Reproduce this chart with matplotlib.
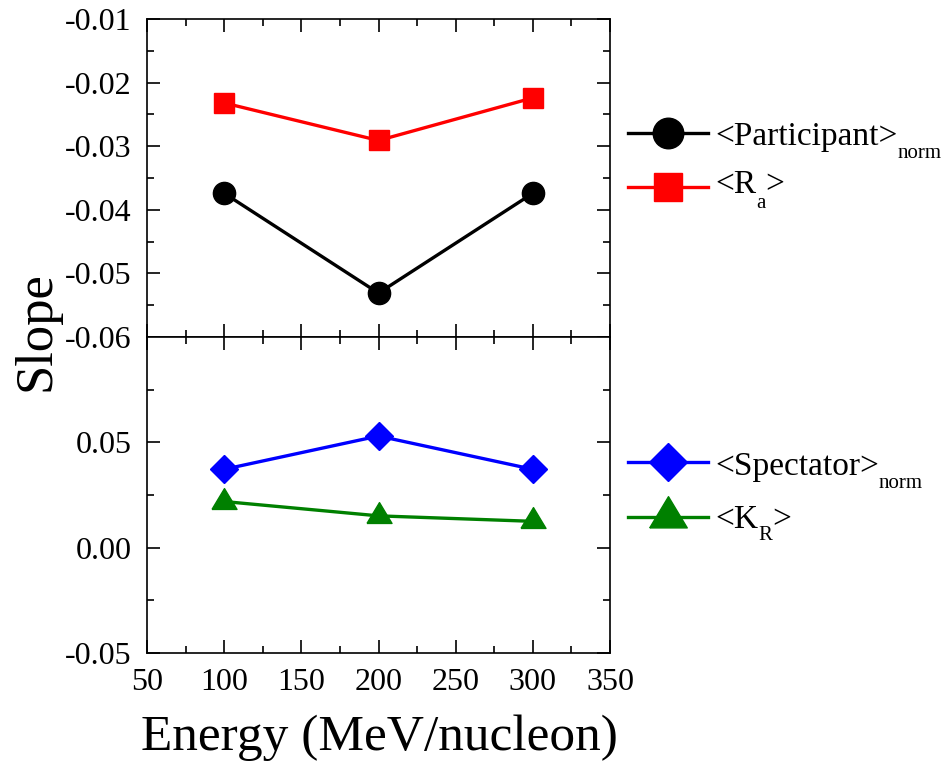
import matplotlib
matplotlib.use('Agg')
import matplotlib.pyplot as plt
from matplotlib.lines import Line2D
from matplotlib.ticker import MultipleLocator, FormatStrFormatter, FixedLocator

plt.rcParams['font.family'] = 'Liberation Serif'
plt.rcParams['axes.unicode_minus'] = False

# data
energy = [100, 200, 300]
participant = [-0.0374, -0.0531, -0.0374]
r_a = [-0.0232, -0.0291, -0.0224]
spectator = [0.0372, 0.0530, 0.0372]
k_r = [0.0219, 0.0151, 0.0125]

W, H = 946, 768
fig = plt.figure(figsize=(W / 100, H / 100), dpi=100)
ax_top = fig.add_axes([147 / W, 1 - 337 / H, 463 / W, 318 / H])
ax_bot = fig.add_axes([147 / W, 1 - 653 / H, 463 / W, 316 / H])

# triangle centred on its centroid, a bit wider than tall
tri = [(-1, -0.555), (1, -0.555), (0, 1.11), (-1, -0.555)]

series = [
    (ax_top, participant, 'black', 'o', 16, 22, ('<Participant>', 'norm', ''), 133, 145, 13),
    (ax_top, r_a, 'red', 's', 14.5, 20, ('<R', 'a', '>'), 187, 193, 15),
    (ax_bot, spectator, 'blue', 'D', 14, 19.5, ('<Spectator>', 'norm', ''), 462, 475, 13),
    (ax_bot, k_r, 'green', tri, 20, 30, ('<K', 'R', '>'), 517, 528, 12),
]

lw = 2.4
for ax, vals, color, marker, ms, lms, label, ly, base, drop in series:
    ax.plot(energy, vals, color=color, lw=lw, marker=marker, ms=ms)

    # legend entry drawn by hand (sample line + text with subscript)
    yl = (H - ly) / H
    fig.add_artist(Line2D([628 / W, 668 / W, 708 / W], [yl, yl, yl], color=color,
                          lw=lw, marker=marker, ms=lms, markevery=[1],
                          transform=fig.transFigure))
    main, sub, tail = label
    t1 = fig.text(715 / W, (H - base) / H, main, fontsize=24, va='baseline')
    t2 = fig.add_artist(plt.Annotation(sub, xy=(1, H - base - drop),
                                       xycoords=(t1, 'figure pixels'),
                                       fontsize=15, va='baseline', ha='left'))
    if tail:
        fig.add_artist(plt.Annotation(tail, xy=(1, H - base),
                                      xycoords=(t2, 'figure pixels'),
                                      fontsize=24, va='baseline', ha='left'))

for ax in (ax_top, ax_bot):
    ax.set_xlim(50, 350)
    ax.xaxis.set_major_locator(MultipleLocator(50))
    ax.xaxis.set_minor_locator(MultipleLocator(25))
    ax.tick_params(which='both', direction='in', top=True, right=True,
                   labelsize=23, width=1.2)
    ax.tick_params(axis='y', pad=11)
    ax.tick_params(axis='x', pad=11)
    ax.tick_params(which='major', length=9.4)
    ax.tick_params(which='minor', length=5)
    for sp in ax.spines.values():
        sp.set_linewidth(1.2)
    ax.yaxis.set_major_formatter(FormatStrFormatter('%.2f'))

ax_top.set_ylim(-0.06, -0.01)
ax_top.yaxis.set_major_locator(MultipleLocator(0.01))
ax_top.yaxis.set_minor_locator(MultipleLocator(0.005))
ax_top.tick_params(labelbottom=False)

ax_bot.set_ylim(-0.05, 0.10)
ax_bot.yaxis.set_major_locator(FixedLocator([-0.05, 0.0, 0.05]))
ax_bot.yaxis.set_minor_locator(FixedLocator([-0.025, 0.025, 0.075]))

fig.text(50 / W, 1 - 331 / H, 'Slope', rotation=90, rotation_mode='anchor',
         fontsize=38, ha='center', va='baseline')
fig.text(379 / W, 18 / H, 'Energy (MeV/nucleon)', fontsize=37,
         ha='center', va='baseline')

fig.savefig('out.png', dpi=100)
